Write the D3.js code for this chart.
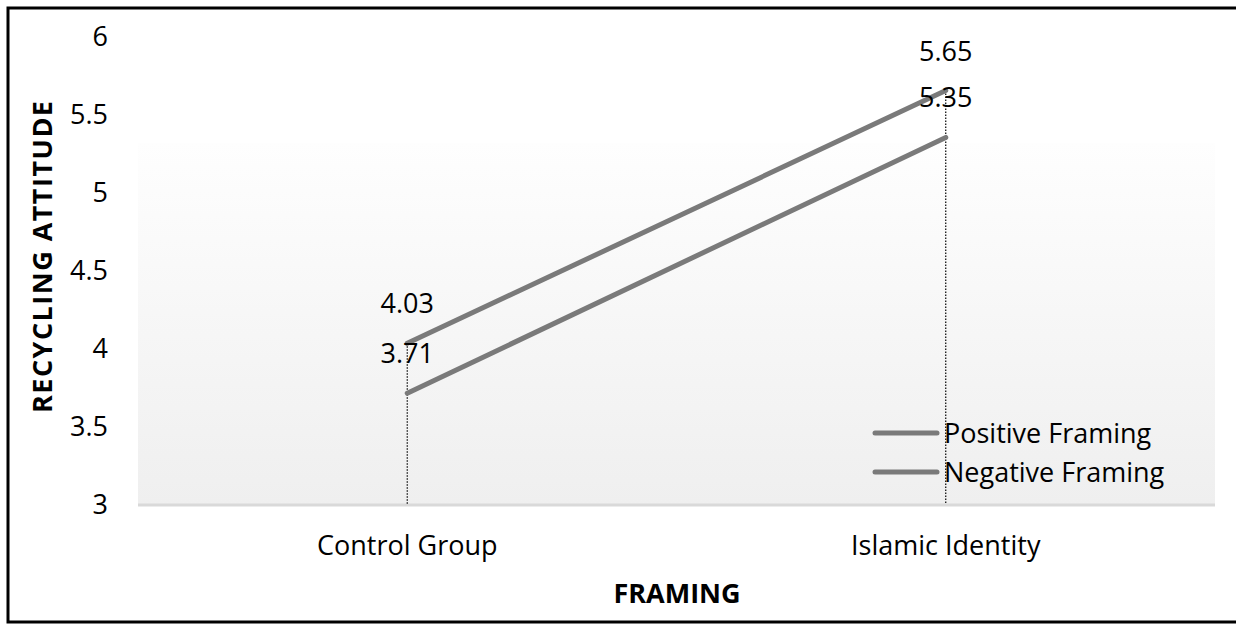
<!DOCTYPE html>
<html>
<head>
<meta charset="utf-8">
<script src="https://cdn.jsdelivr.net/npm/d3@7"></script>
<style>
  html, body { margin: 0; padding: 0; background: #fff; }
  svg { display: block; }
  text { font-family: "Open Sans", "Noto Sans", sans-serif; fill: #000; }
</style>
</head>
<body>
<svg id="chart" width="1236" height="624"></svg>
<script>
const categories = ["Control Group", "Islamic Identity"];
const seriesNames = ["Positive Framing", "Negative Framing"];
const positiveValues = [4.03, 5.65];
const negativeValues = [3.71, 5.35];
const yTicks = [3, 3.5, 4, 4.5, 5, 5.5, 6];
const yTitle = "RECYCLING ATTITUDE";
const xTitle = "FRAMING";

const series = [
  { name: seriesNames[0], values: positiveValues },
  { name: seriesNames[1], values: negativeValues }
];

const FS = 27;
const plot = { left: 138, right: 1215, top: 36, bottom: 504 };
const svg = d3.select("#chart");

// outer frame (left, top, bottom edges)
svg.append("path")
  .attr("d", `M1236,8 L8,8 L8,622 L1236,622`)
  .attr("fill", "none").attr("stroke", "#000").attr("stroke-width", 3);

const x = d3.scaleBand().domain(categories).range([plot.left, plot.right]);
const y = d3.scaleLinear().domain([3, 6]).range([plot.bottom, plot.top]);

// gradient background
const defs = svg.append("defs");
const grad = defs.append("linearGradient").attr("id", "bg").attr("x1", 0).attr("y1", 0).attr("x2", 0).attr("y2", 1);
grad.append("stop").attr("offset", "0%").attr("stop-color", "#fefefe");
grad.append("stop").attr("offset", "100%").attr("stop-color", "#efefef");
svg.append("rect")
  .attr("x", plot.left).attr("y", 143)
  .attr("width", plot.right - plot.left).attr("height", y(3) - 143)
  .attr("fill", "url(#bg)");

// baseline
svg.append("line")
  .attr("x1", plot.left).attr("x2", plot.right)
  .attr("y1", y(3) + 1).attr("y2", y(3) + 1)
  .attr("stroke", "#d9d9d9").attr("stroke-width", 3);

// y axis
const yAxis = svg.append("g")
  .attr("transform", `translate(${plot.left},0)`)
  .call(d3.axisLeft(y).tickValues(yTicks).tickSize(0).tickPadding(30).tickFormat(d3.format("")));
yAxis.select(".domain").remove();
yAxis.selectAll("text")
  .style("font-family", '"Open Sans", sans-serif')
  .attr("font-size", FS).attr("fill", "#000").attr("dy", "0.36em");

// x axis labels
const xAxis = svg.append("g")
  .attr("transform", `translate(0,${plot.bottom})`)
  .call(d3.axisBottom(x).tickSize(0).tickPadding(0));
xAxis.select(".domain").remove();
xAxis.selectAll("text")
  .style("font-family", '"Open Sans", sans-serif')
  .attr("font-size", FS).attr("fill", "#000")
  .attr("dy", null).attr("y", 51);

// high-low dotted lines
categories.forEach((c, i) => {
  const hi = d3.max(series, s => s.values[i]);
  svg.append("line")
    .attr("x1", x(c) + x.bandwidth() / 2).attr("x2", x(c) + x.bandwidth() / 2)
    .attr("y1", y(hi)).attr("y2", y(3))
    .attr("stroke", "#000").attr("stroke-width", 1.2)
    .attr("stroke-dasharray", "1.5,1.5");
});

// lines
const line = d3.line()
  .x((d, i) => x(categories[i]) + x.bandwidth() / 2)
  .y(d => y(d));
series.forEach(s => {
  svg.append("path")
    .attr("d", line(s.values))
    .attr("fill", "none").attr("stroke", "#7a7a7a")
    .attr("stroke-width", 5).attr("stroke-linecap", "round");
});

// data labels
series.forEach(s => {
  s.values.forEach((v, i) => {
    svg.append("text")
      .attr("x", x(categories[i]) + x.bandwidth() / 2)
      .attr("y", y(v) - 30)
      .attr("text-anchor", "middle")
      .attr("font-size", FS)
      .text(v.toFixed(2));
  });
});

// legend
series.forEach((s, i) => {
  const ly = 433 + i * 39;
  svg.append("line")
    .attr("x1", 875).attr("x2", 937).attr("y1", ly).attr("y2", ly)
    .attr("stroke", "#7a7a7a").attr("stroke-width", 5).attr("stroke-linecap", "round");
  svg.append("text")
    .attr("x", 944).attr("y", ly + 10)
    .attr("font-size", FS)
    .text(s.name);
});

// axis titles
svg.append("text")
  .attr("transform", `translate(52,257) rotate(-90)`)
  .attr("text-anchor", "middle")
  .attr("font-size", FS).attr("font-weight", "bold")
  .attr("textLength", 312).attr("lengthAdjust", "spacing")
  .text(yTitle);
svg.append("text")
  .attr("x", 677).attr("y", 603)
  .attr("text-anchor", "middle")
  .attr("font-size", FS).attr("font-weight", "bold")
  .text(xTitle);
</script>
</body>
</html>
